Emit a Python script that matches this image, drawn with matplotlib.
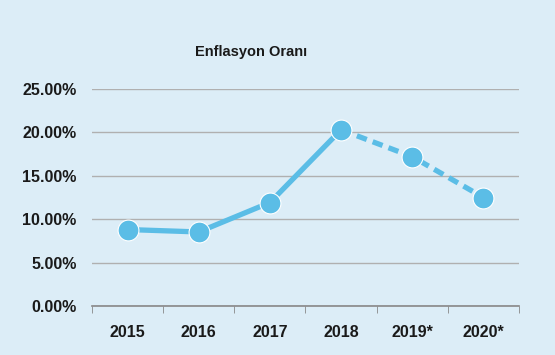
import numpy as np
import matplotlib.pyplot as plt
from matplotlib.ticker import FuncFormatter

# MARK:- data
years = ["2015", "2016", "2017", "2018", "2019*", "2020*"]
rates = [8.81, 8.53, 11.92, 20.30, 17.20, 12.50]
n_actual = 4  # 2015-2018 actual, rest forecast
yticks = [0, 5, 10, 15, 20, 25]

# MARK:- style
bg = "#dcedf7"
blue = "#5bbde6"
plt.rcParams["font.family"] = ["Liberation Sans", "DejaVu Sans"]
plt.rcParams["font.weight"] = "bold"

fig = plt.figure(figsize=(5.55, 3.55), dpi=100, facecolor=bg)
ax = fig.add_axes([92 / 555, 49 / 355, 427 / 555, 217 / 355], facecolor=bg)

x = np.arange(len(years))
ax.plot(x[:n_actual], rates[:n_actual], color=blue, lw=3.8, solid_capstyle="round", zorder=3)
ax.plot(x[n_actual - 1:], rates[n_actual - 1:], color=blue, lw=3.8, ls=(0, (2.0, 1.2)), zorder=3)
ax.plot(x, rates, "o", color=blue, ms=15, mec="white", mew=0.8, zorder=4)

ax.set_xlim(-0.5, len(years) - 0.5)
ax.set_ylim(0, 25)
ax.set_yticks(yticks)
ax.yaxis.set_major_formatter(FuncFormatter(lambda v, p: f"{v:.2f}%"))
ax.grid(axis="y", color="#b0b0b0", lw=1)
ax.set_axisbelow(True)

ax.set_xticks(x)
ax.set_xticklabels(years)
ax.set_xticks(np.arange(len(years) + 1) - 0.5, minor=True)
ax.tick_params(axis="x", which="major", length=0, pad=14, labelsize=11.5, labelcolor="#1a1a1a")
ax.tick_params(axis="x", which="minor", length=5, color="#888888", direction="out")
ax.tick_params(axis="y", length=0, pad=11, labelsize=11.5, labelcolor="#1a1a1a")

for s in ["top", "right", "left"]:
    ax.spines[s].set_visible(False)
ax.spines["bottom"].set_color("#888888")
ax.spines["bottom"].set_linewidth(1.2)

fig.text(251 / 555, 1 - 52 / 355, "Enflasyon Oranı", ha="center", va="center",
         fontsize=10.5, color="#1a1a1a", fontweight="bold")

fig.savefig("out.png", facecolor=bg)
